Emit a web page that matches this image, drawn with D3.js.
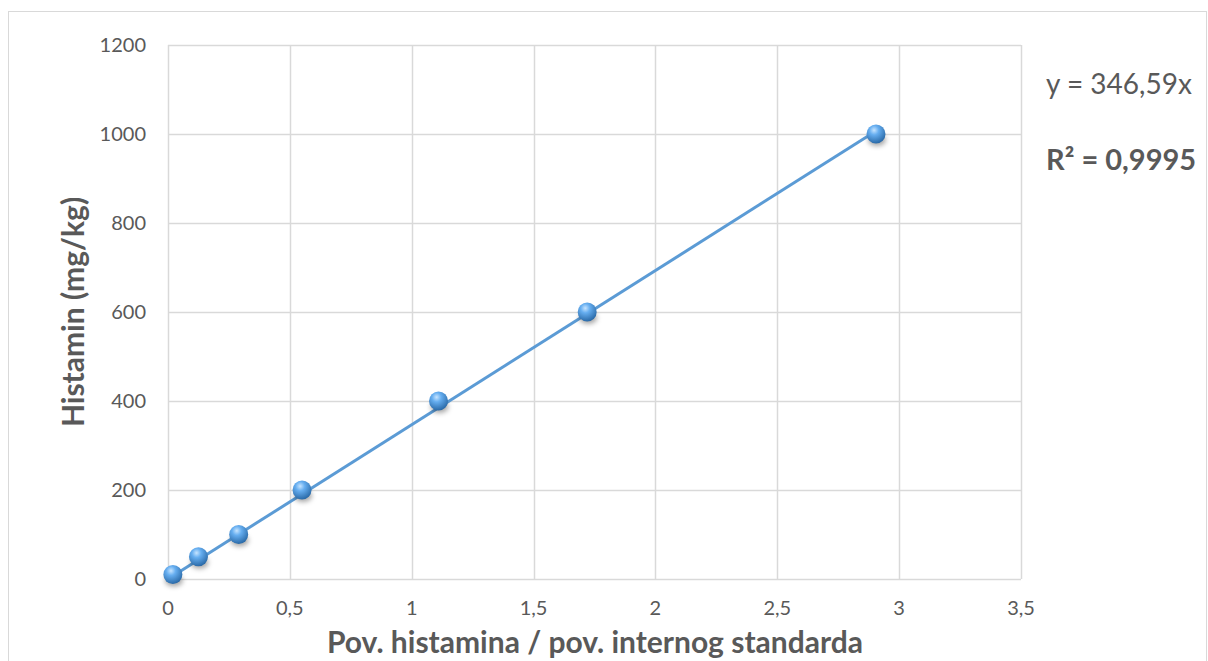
<!DOCTYPE html>
<html>
<head>
<meta charset="utf-8">
<script src="https://cdn.jsdelivr.net/npm/d3@7"></script>
<style>
  body { margin: 0; background: #fff; }
  text { font-family: Lato, "Open Sans", sans-serif; fill: #595959; }
</style>
</head>
<body>
<svg id="chart"></svg>
<script>
// data
const xValues = [0.02, 0.125, 0.29, 0.55, 1.11, 1.72, 2.905];
const yValues = [10, 50, 100, 200, 400, 600, 1000];
const xTicks = [0, 0.5, 1, 1.5, 2, 2.5, 3, 3.5];
const yTicks = [0, 200, 400, 600, 800, 1000, 1200];
const slope = 346.59;

const width = 1208;
const height = 661;
const margin = { left: 168, right: 187, top: 45, bottom: 82 };

const svg = d3.select("#chart")
    .attr("width", width)
    .attr("height", height);

// outer chart frame
svg.append("rect")
    .attr("x", 8.5).attr("y", 11.5)
    .attr("width", 1198).attr("height", 660)
    .attr("fill", "none")
    .attr("stroke", "#d9d9d9");

const x = d3.scaleLinear().domain([0, 3.5]).range([margin.left, width - margin.right]);
const y = d3.scaleLinear().domain([0, 1200]).range([height - margin.bottom, margin.top]);

// gridlines
svg.append("g")
    .selectAll("line")
    .data(xTicks)
    .join("line")
    .attr("x1", d => Math.round(x(d)) + 0.5).attr("x2", d => Math.round(x(d)) + 0.5)
    .attr("y1", y(0)).attr("y2", y(1200))
    .attr("stroke", "#d9d9d9").attr("stroke-width", 1.5);

svg.append("g")
    .selectAll("line")
    .data(yTicks)
    .join("line")
    .attr("x1", x(0)).attr("x2", x(3.5))
    .attr("y1", d => Math.round(y(d)) + 0.5).attr("y2", d => Math.round(y(d)) + 0.5)
    .attr("stroke", "#d9d9d9").attr("stroke-width", 1.5);

// tick labels
const fmt = d => String(d).replace(".", ",");
svg.append("g")
    .selectAll("text")
    .data(xTicks)
    .join("text")
    .attr("x", d => x(d))
    .attr("y", y(0) + 36)
    .attr("text-anchor", "middle")
    .attr("font-size", 20)
    .text(fmt);

svg.append("g")
    .selectAll("text")
    .data(yTicks)
    .join("text")
    .attr("x", x(0) - 22)
    .attr("y", d => y(d) + 7)
    .attr("text-anchor", "end")
    .attr("font-size", 20)
    .text(d => d);

// axis titles
svg.append("text")
    .attr("x", 595)
    .attr("y", 653)
    .attr("text-anchor", "middle")
    .attr("font-size", 30)
    .attr("font-weight", "bold")
    .text("Pov. histamina / pov. internog standarda");

svg.append("text")
    .attr("transform", `translate(84, ${(y(0) + y(1200)) / 2}) rotate(-90)`)
    .attr("text-anchor", "middle")
    .attr("font-size", 30)
    .attr("font-weight", "bold")
    .text("Histamin (mg/kg)");

// trendline
const xMin = d3.min(xValues), xMax = d3.max(xValues);
svg.append("line")
    .attr("x1", x(xMin)).attr("y1", y(slope * xMin))
    .attr("x2", x(xMax)).attr("y2", y(slope * xMax))
    .attr("stroke", "#5b9bd5")
    .attr("stroke-width", 3);

// sphere markers
const defs = svg.append("defs");
const grad = defs.append("radialGradient")
    .attr("id", "ball")
    .attr("cx", "40%").attr("cy", "30%").attr("r", "70%");
grad.append("stop").attr("offset", "0%").attr("stop-color", "#c6e4ff");
grad.append("stop").attr("offset", "35%").attr("stop-color", "#66aef0");
grad.append("stop").attr("offset", "100%").attr("stop-color", "#2a6aa8");

const shadow = defs.append("filter").attr("id", "shadow")
    .attr("x", "-50%").attr("y", "-50%").attr("width", "200%").attr("height", "200%");
shadow.append("feGaussianBlur").attr("stdDeviation", 2.5);

const pts = d3.zip(xValues, yValues);

svg.append("g")
    .selectAll("ellipse")
    .data(pts)
    .join("ellipse")
    .attr("cx", d => x(d[0]) + 1)
    .attr("cy", d => y(d[1]) + 6)
    .attr("rx", 9).attr("ry", 6)
    .attr("fill", "rgba(0,0,0,0.35)")
    .attr("filter", "url(#shadow)");

svg.append("g")
    .selectAll("circle")
    .data(pts)
    .join("circle")
    .attr("cx", d => x(d[0]))
    .attr("cy", d => y(d[1]))
    .attr("r", 9.5)
    .attr("fill", "url(#ball)");

// trendline equation
svg.append("text")
    .attr("x", 1046).attr("y", 94)
    .attr("font-size", 28)
    .text("y = " + String(slope).replace(".", ",") + "x");

svg.append("text")
    .attr("x", 1046).attr("y", 170)
    .attr("font-size", 29)
    .attr("font-weight", "bold")
    .text("R² = 0,9995");
</script>
</body>
</html>
